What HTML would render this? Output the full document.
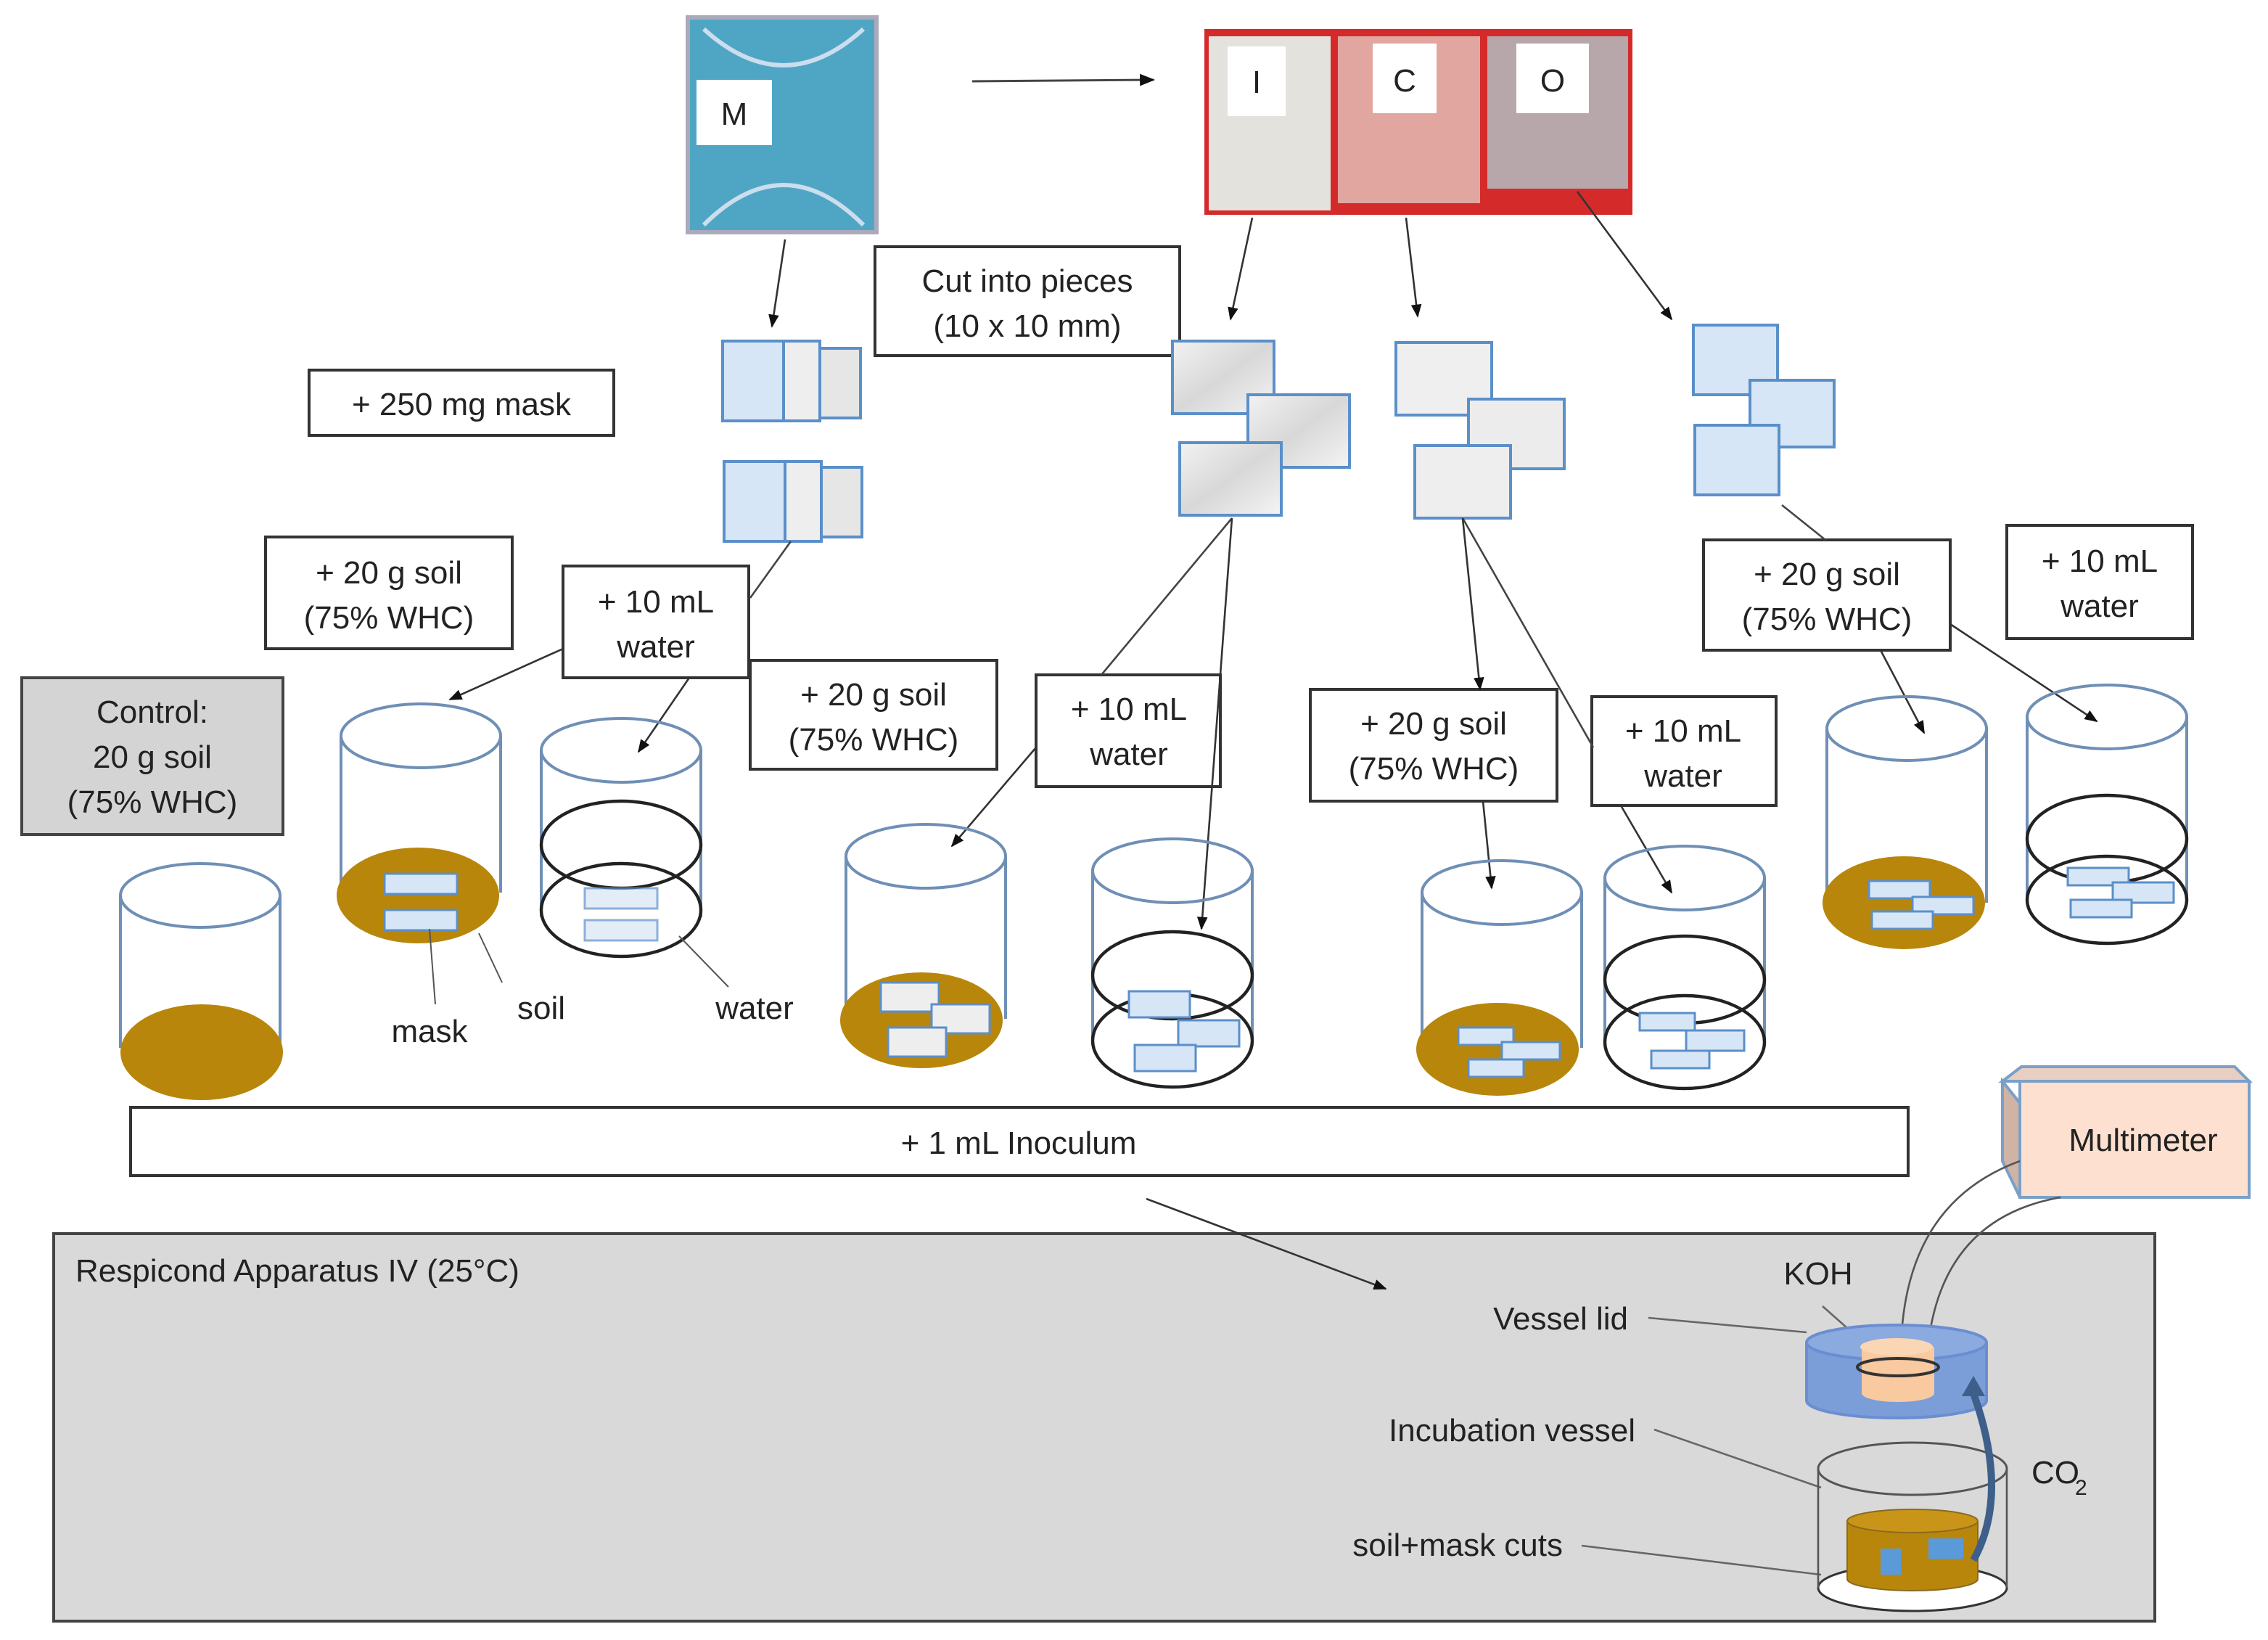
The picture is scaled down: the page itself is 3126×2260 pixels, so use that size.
<!DOCTYPE html>
<html><head><meta charset="utf-8"><style>
html,body{margin:0;padding:0;background:#fff}
svg{display:block}
text{font-family:"Liberation Sans",sans-serif;fill:#222}
</style></head><body>
<svg width="3126" height="2260" viewBox="0 0 1563 1130" xmlns="http://www.w3.org/2000/svg">
<defs>
<marker id="a" viewBox="0 0 10 10" refX="9" refY="5" markerWidth="7" markerHeight="7" orient="auto"><path d="M0,1 L10,5 L0,9 z" fill="#111"/></marker>
<linearGradient id="wp" x1="0" y1="0" x2="1" y2="1"><stop offset="0" stop-color="#f2f2f2"/><stop offset="0.5" stop-color="#d8d8d8"/><stop offset="1" stop-color="#f4f4f4"/></linearGradient>
</defs>
<g font-size="22">
<rect x="474" y="12" width="130" height="148" fill="#4fa6c4"/>
<rect x="474" y="12" width="130" height="148" fill="none" stroke="#aab" stroke-width="3"/>
<path d="M485,20 Q540,70 595,20 M485,155 Q540,100 595,155" stroke="#cde" stroke-width="3" fill="none"/>
<rect x="480" y="55" width="52" height="45" fill="#fff"/><text x="506" y="86" text-anchor="middle">M</text>
<line x1="670" y1="56" x2="795" y2="55" stroke="#444" stroke-width="1.5" marker-end="url(#a)"/>
<rect x="830" y="20" width="295" height="128" fill="#d42a2a"/>
<rect x="833" y="25" width="84" height="120" fill="#e4e2dc"/>
<rect x="922" y="25" width="98" height="115" fill="#e2a6a0"/>
<rect x="1025" y="25" width="97" height="105" fill="#b7a6aa"/>
<rect x="846" y="32" width="40" height="48" fill="#fff"/><text x="866" y="64" text-anchor="middle">I</text>
<rect x="946" y="30" width="44" height="48" fill="#fff"/><text x="968" y="63" text-anchor="middle">C</text>
<rect x="1045" y="30" width="50" height="48" fill="#fff"/><text x="1070" y="63" text-anchor="middle">O</text>
<g stroke="#333" stroke-width="1.3" fill="none" marker-end="url(#a)">
<line x1="541" y1="165" x2="532" y2="225"/>
<line x1="863" y1="150" x2="848" y2="220"/>
<line x1="969" y1="150" x2="977" y2="218"/>
<line x1="1087" y1="132" x2="1152" y2="220"/>
</g>
<g fill="#fff" stroke="#333" stroke-width="2">
<rect x="603" y="170" width="210" height="75"/>
<rect x="213" y="255" width="210" height="45"/>
<rect x="183" y="370" width="170" height="77"/>
<rect x="388" y="390" width="128" height="77"/>
<rect x="517" y="455" width="170" height="75"/>
<rect x="714" y="465" width="127" height="77"/>
<rect x="903" y="475" width="170" height="77"/>
<rect x="1097" y="480" width="127" height="75"/>
<rect x="1174" y="372" width="170" height="76"/>
<rect x="1383" y="362" width="128" height="78"/>
</g>
<rect x="15" y="467" width="180" height="108" fill="#d4d4d4" stroke="#444" stroke-width="2"/>
<g text-anchor="middle">
<text x="708" y="201">Cut into  pieces</text><text x="708" y="232">(10 x 10 mm)</text>
<text x="318" y="286">+ 250 mg mask</text>
<text x="268" y="402">+ 20 g soil</text><text x="268" y="433">(75% WHC)</text>
<text x="452" y="422">+ 10 mL</text><text x="452" y="453">water</text>
<text x="602" y="486">+ 20 g soil</text><text x="602" y="517">(75% WHC)</text>
<text x="778" y="496">+ 10 mL</text><text x="778" y="527">water</text>
<text x="988" y="506">+ 20 g soil</text><text x="988" y="537">(75% WHC)</text>
<text x="1160" y="511">+ 10 mL</text><text x="1160" y="542">water</text>
<text x="1259" y="403">+ 20 g soil</text><text x="1259" y="434">(75% WHC)</text>
<text x="1447" y="394">+ 10 mL</text><text x="1447" y="425">water</text>
<text x="105" y="498">Control:</text><text x="105" y="529">20 g soil</text><text x="105" y="560">(75% WHC)</text>
</g>
<g stroke="#5b8fc9" stroke-width="2">
<rect x="498" y="235" width="42" height="55" fill="#d6e6f6"/><rect x="540" y="235" width="25" height="55" fill="#eee"/><rect x="565" y="240" width="28" height="48" fill="#e6e6e6"/>
<rect x="499" y="318" width="42" height="55" fill="#d6e6f6"/><rect x="541" y="318" width="25" height="55" fill="#eee"/><rect x="566" y="322" width="28" height="48" fill="#e6e6e6"/>
<rect x="808" y="235" width="70" height="50" fill="url(#wp)"/><rect x="860" y="272" width="70" height="50" fill="url(#wp)"/><rect x="813" y="305" width="70" height="50" fill="url(#wp)"/>
<rect x="962" y="236" width="66" height="50" fill="#efefef"/><rect x="1012" y="275" width="66" height="48" fill="#ececec"/><rect x="975" y="307" width="66" height="50" fill="#eee"/>
<rect x="1167" y="224" width="58" height="48" fill="#d6e6f6"/><rect x="1206" y="262" width="58" height="46" fill="#d6e6f6"/><rect x="1168" y="293" width="58" height="48" fill="#d6e6f6"/>
</g>
<g stroke="#444" stroke-width="1.3" fill="none">
<line x1="545" y1="373" x2="517" y2="412"/>
<line x1="849" y1="357" x2="759" y2="465"/>
<line x1="1008" y1="357" x2="1098" y2="515"/>
<line x1="1228" y1="348" x2="1258" y2="372"/>
</g>
<g stroke="#333" stroke-width="1.3" fill="none" marker-end="url(#a)">
<line x1="388" y1="447" x2="310" y2="482"/>
<line x1="475" y1="467" x2="440" y2="518"/>
<line x1="714" y1="515" x2="656" y2="583"/>
<line x1="849" y1="357" x2="828" y2="640"/>
<line x1="1008" y1="357" x2="1020" y2="475"/>
<line x1="1022" y1="552" x2="1028" y2="612"/>
<line x1="1117" y1="555" x2="1152" y2="615"/>
<line x1="1296" y1="448" x2="1326" y2="505"/>
<line x1="1344" y1="430" x2="1445" y2="497"/>
</g>
<g fill="none" stroke="#6f8fb5" stroke-width="2">
<ellipse cx="138" cy="617" rx="55" ry="22"/><path d="M83,617 V722 M193,617 V722"/>
<ellipse cx="290" cy="507" rx="55" ry="22"/><path d="M235,507 V615 M345,507 V615"/>
<ellipse cx="428" cy="517" rx="55" ry="22"/><path d="M373,517 V632 M483,517 V632"/>
<ellipse cx="638" cy="590" rx="55" ry="22"/><path d="M583,590 V702 M693,590 V702"/>
<ellipse cx="808" cy="600" rx="55" ry="22"/><path d="M753,600 V718 M863,600 V718"/>
<ellipse cx="1035" cy="615" rx="55" ry="22"/><path d="M980,615 V722 M1090,615 V722"/>
<ellipse cx="1161" cy="605" rx="55" ry="22"/><path d="M1106,605 V718 M1216,605 V718"/>
<ellipse cx="1314" cy="502" rx="55" ry="22"/><path d="M1259,502 V622 M1369,502 V622"/>
<ellipse cx="1452" cy="494" rx="55" ry="22"/><path d="M1397,494 V620 M1507,494 V620"/>
</g>
<g fill="#b8860b">
<ellipse cx="139" cy="725" rx="56" ry="33"/>
<ellipse cx="288" cy="617" rx="56" ry="33"/>
<ellipse cx="635" cy="703" rx="56" ry="33"/>
<ellipse cx="1032" cy="723" rx="56" ry="32"/>
<ellipse cx="1312" cy="622" rx="56" ry="32"/>
</g>
<g fill="none" stroke="#222" stroke-width="2.2">
<ellipse cx="428" cy="582" rx="55" ry="30"/><ellipse cx="428" cy="627" rx="55" ry="32"/>
<ellipse cx="808" cy="672" rx="55" ry="30"/><ellipse cx="808" cy="717" rx="55" ry="32"/>
<ellipse cx="1161" cy="675" rx="55" ry="30"/><ellipse cx="1161" cy="718" rx="55" ry="32"/>
<ellipse cx="1452" cy="578" rx="55" ry="30"/><ellipse cx="1452" cy="620" rx="55" ry="30"/>
</g>
<g stroke="#5b8fc9" stroke-width="1.5" fill="#d6e6f6">
<rect x="265" y="602" width="50" height="14"/><rect x="265" y="627" width="50" height="14"/>
<rect x="403" y="612" width="50" height="14" opacity="0.7"/><rect x="403" y="634" width="50" height="14" opacity="0.7"/>
<rect x="607" y="677" width="40" height="20" fill="#eee"/><rect x="642" y="692" width="40" height="20" fill="#eee"/><rect x="612" y="708" width="40" height="20" fill="#eee"/>
<rect x="778" y="683" width="42" height="18"/><rect x="812" y="703" width="42" height="18"/><rect x="782" y="720" width="42" height="18"/>
<rect x="1005" y="708" width="38" height="12"/><rect x="1035" y="718" width="40" height="12"/><rect x="1012" y="730" width="38" height="12"/>
<rect x="1130" y="698" width="38" height="12"/><rect x="1162" y="710" width="40" height="14"/><rect x="1138" y="724" width="40" height="12"/>
<rect x="1288" y="607" width="42" height="12"/><rect x="1318" y="618" width="42" height="12"/><rect x="1290" y="628" width="42" height="12"/>
<rect x="1425" y="598" width="42" height="12"/><rect x="1456" y="608" width="42" height="14"/><rect x="1427" y="620" width="42" height="12"/>
</g>
<g stroke="#555" stroke-width="1"><line x1="296" y1="640" x2="300" y2="692"/><line x1="330" y1="643" x2="346" y2="677"/><line x1="468" y1="645" x2="502" y2="680"/></g>
<text x="296" y="718" text-anchor="middle">mask</text>
<text x="373" y="702" text-anchor="middle">soil</text>
<text x="520" y="702" text-anchor="middle">water</text>
<rect x="90" y="763" width="1225" height="47" fill="#fff" stroke="#333" stroke-width="2"/>
<text x="702" y="795" text-anchor="middle">+ 1 mL Inoculum</text>
<rect x="37" y="850" width="1448" height="267" fill="#d9d9d9" stroke="#444" stroke-width="2"/>
<line x1="790" y1="826" x2="955" y2="888" stroke="#333" stroke-width="1.3" marker-end="url(#a)"/>
<text x="52" y="883">Respicond Apparatus IV (25°C)</text>
<text x="1253" y="885" text-anchor="middle">KOH</text>
<text x="1122" y="916" text-anchor="end">Vessel lid</text>
<text x="1127" y="993" text-anchor="end">Incubation  vessel</text>
<text x="1077" y="1072" text-anchor="end">soil+mask cuts</text>
<text x="1400" y="1022">CO</text><text x="1430" y="1030" font-size="15">2</text>
<g stroke="#666" stroke-width="1.3" fill="none">
<line x1="1136" y1="908" x2="1245" y2="918"/>
<line x1="1140" y1="985" x2="1255" y2="1025"/>
<line x1="1090" y1="1065" x2="1255" y2="1085"/>
<line x1="1256" y1="900" x2="1290" y2="930"/>
</g>
<path d="M1380,745 L1393,735 L1540,735 L1550,745 Z" fill="#e8cfc2" stroke="#7aa0c8" stroke-width="2"/>
<path d="M1380,745 L1392,760 L1392,825 L1380,800 Z" fill="#cfb4a6" stroke="#7aa0c8" stroke-width="2"/>
<rect x="1392" y="745" width="158" height="80" fill="#fde0d0" stroke="#7aa0c8" stroke-width="2"/>
<text x="1477" y="793" text-anchor="middle">Multimeter</text>
<g stroke="#555" stroke-width="1.3" fill="none">
<path d="M1392,800 Q1310,830 1310,935"/>
<path d="M1420,825 Q1335,840 1328,935"/>
</g>
<path d="M1245,925 V965 A62,12 0 0 0 1369,965 V925" fill="#7b9ed8" stroke="#6b8ed0" stroke-width="2"/>
<ellipse cx="1307" cy="925" rx="62" ry="12" fill="#8aaae0" stroke="#6b8ed0" stroke-width="2"/>
<path d="M1283,928 V960 A25,6 0 0 0 1333,960 V928" fill="#f9c9a0"/>
<ellipse cx="1307" cy="928" rx="25" ry="6" fill="#fbd6b4"/>
<ellipse cx="1308" cy="942" rx="28" ry="6" fill="none" stroke="#333" stroke-width="2"/>
<ellipse cx="1318" cy="1094" rx="65" ry="16" fill="#fff" stroke="#333" stroke-width="1.5"/>
<path d="M1253,1012 V1094 M1383,1012 V1094" stroke="#555" stroke-width="1.3"/>
<ellipse cx="1318" cy="1012" rx="65" ry="18" fill="none" stroke="#555" stroke-width="1.5"/>
<path d="M1273,1048 V1088 A45,8 0 0 0 1363,1088 V1048" fill="#b8860b" stroke="#8a6a20"/>
<ellipse cx="1318" cy="1048" rx="45" ry="8" fill="#c99518" stroke="#8a6a20"/>
<rect x="1296" y="1067" width="14" height="18" fill="#5a9ad8"/>
<rect x="1329" y="1060" width="24" height="14" fill="#5a9ad8"/>
<path d="M1360,1075 Q1385,1030 1360,960" stroke="#3d5f8a" stroke-width="5" fill="none"/>
<path d="M1352,962 L1360,948 L1368,962 Z" fill="#3d5f8a"/>
</g>
</svg>
</body></html>
